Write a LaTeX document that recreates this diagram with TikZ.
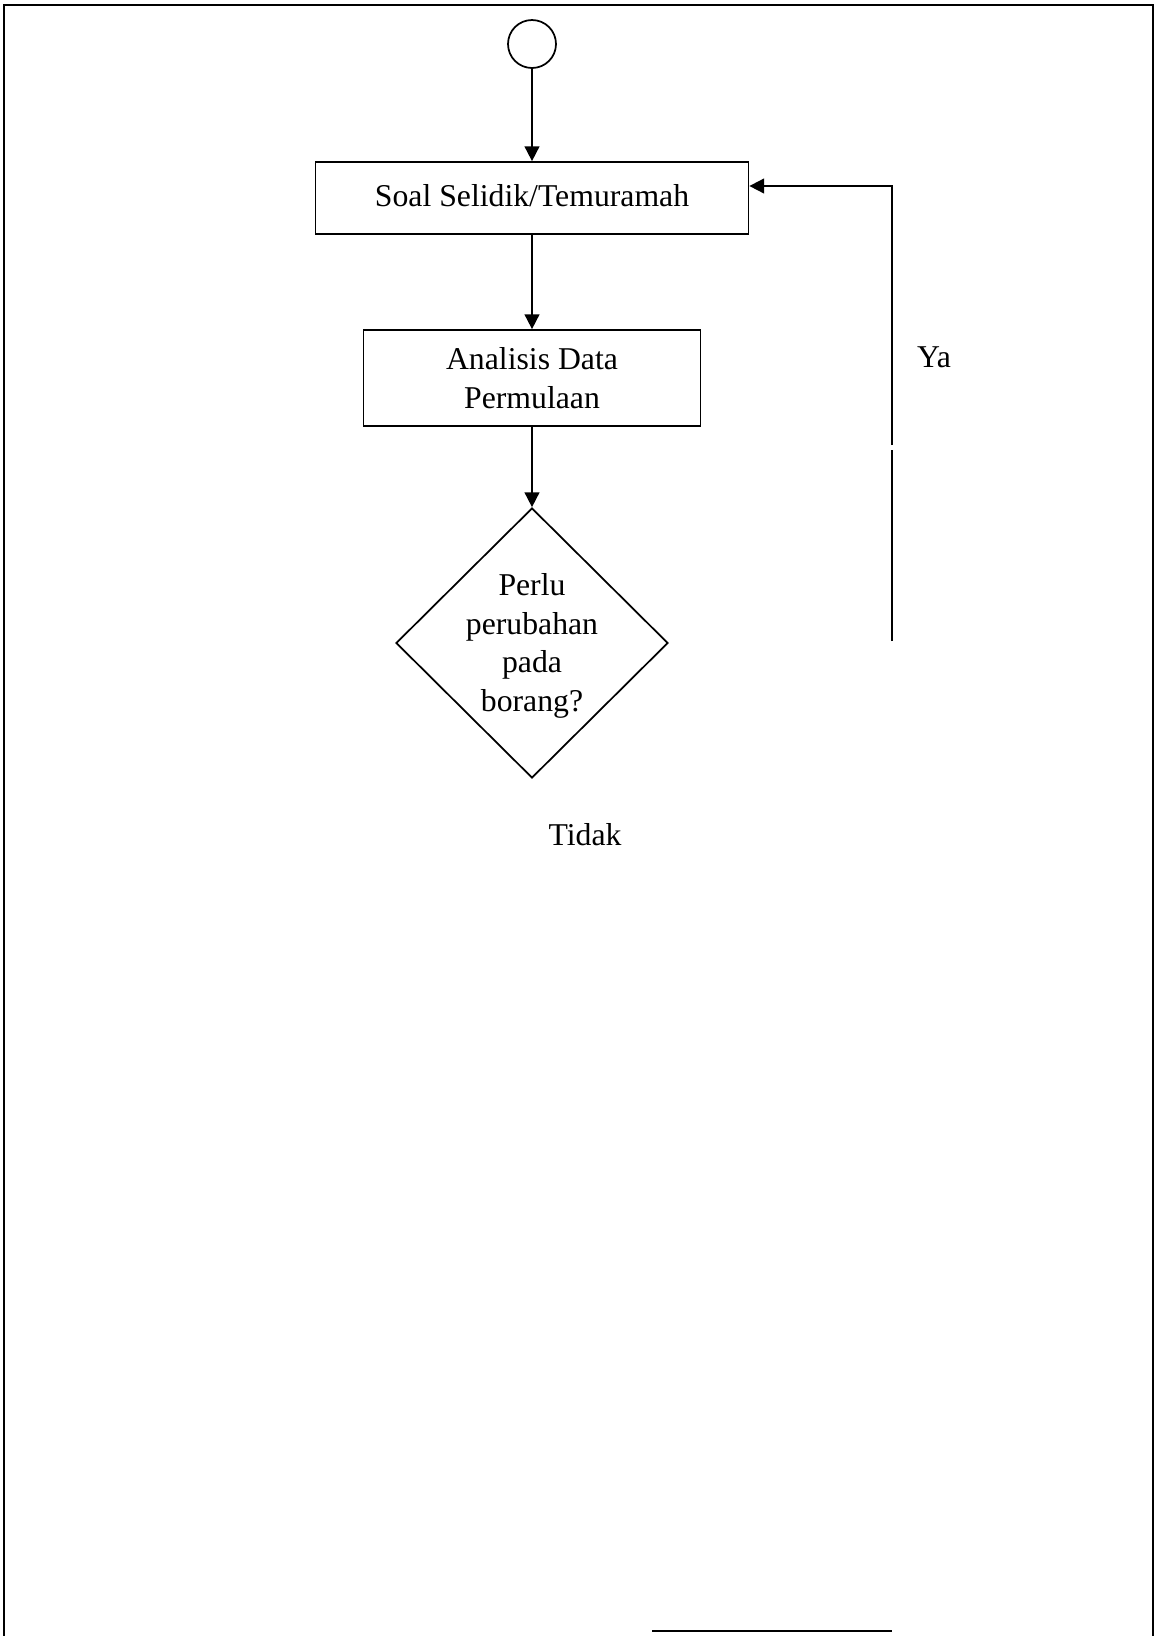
\documentclass[tikz,border=0pt]{standalone}
\usepackage{fontspec}
\setmainfont{Liberation Serif}
\usetikzlibrary{shapes.geometric,arrows.meta}

\tikzset{
  every node/.style={font=\fontsize{23.8}{29}\selectfont},
  flowline/.style={line width=1.3pt},
  flowbox/.style={draw, flowline, inner sep=0.75pt, align=center},
  flowarrow/.style={flowline, -{Triangle[length=11pt,width=11pt]}},
}

\begin{document}
\begin{tikzpicture}[x=0.75pt,y=0.75pt,yscale=-1,xscale=1]
\useasboundingbox (0,0) rectangle (1156,1636);

%Frame
\draw [line width=2pt] (4,1636) -- (4,5) -- (1153,5) -- (1153,1636) ;

%Shape: Circle [start]
\node [circle, draw, flowline, minimum size=36pt, inner sep=0pt] (start) at (532,44) {};
%Shape: Rectangle [survey]
\node [flowbox, minimum width=324.75pt, minimum height=54pt] (survey) at (532,198) {\raisebox{4pt}{Soal Selidik/Temuramah}};
%Shape: Rectangle [analysis]
\node [flowbox, minimum width=252.75pt, minimum height=72pt] (analysis) at (532,378) {Analisis Data\\Permulaan};
%Shape: Diamond [check]
\node [diamond, draw, flowline, minimum width=204pt, minimum height=202.5pt, inner sep=0pt] (check) at (532,643) {};

% Text Node
\node [align=center] (checktext) at (532,646) {Perlu\\perubahan\\pada\\borang?};
% Text Node
\node (yes) at (934,357) {Ya};
% Text Node
\node (no) at (585,835) {Tidak};

%Loop back points
\coordinate (loopstart) at (892,641);
\coordinate (loopgap) at (892,450);
\coordinate (loopresume) at (892,445);
\coordinate (looptop) at (892,186);
%Bottom line points
\coordinate (lineleft) at (652,1631);
\coordinate (lineright) at (892,1631);

%Straight Lines
\draw [flowarrow] (start) -- (survey) ;
\draw [flowarrow] (survey) -- (analysis) ;
\draw [flowarrow] (analysis.south) -- (check.north) ;
%Straight Lines [loop]
\draw [flowline] (loopstart) -- (loopgap) ;
\draw [flowarrow] (loopresume) -- (looptop) -- (looptop -| survey.east) ;
%Straight Lines [bottom]
\draw [line width=2pt] (lineleft) -- (lineright) ;

\end{tikzpicture}
\end{document}
